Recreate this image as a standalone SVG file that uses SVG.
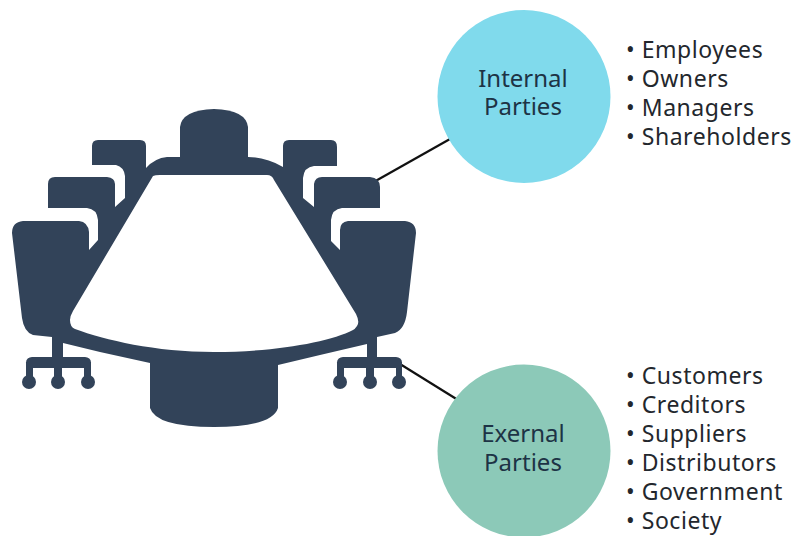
<svg xmlns="http://www.w3.org/2000/svg" width="793" height="536" viewBox="0 0 793 536">
<style>
.d{fill:#324359}
.c{stroke:#111;stroke-width:2.2;fill:none}
text{font-family:"Noto Sans","Open Sans",sans-serif;font-size:23px;fill:#23272d;letter-spacing:.55px}
.h{font-size:24px;fill:#1d3345;text-anchor:middle;letter-spacing:0}
</style>
<rect width="793" height="536" fill="#fff"/>
<g id="connectors">
<line class="c" x1="372" y1="183" x2="450" y2="139"/>
<line class="c" x1="400" y1="364" x2="458" y2="400"/>
</g>
<g id="table-set">
<path class="d" d="M180 160V127Q182 110 214 109Q246 110 248 127V160Z"/>
<path class="d" d="M92 165V146Q92 140 98 140H140Q146 140 146 146V168Q155 158 167 157H248Q266 157 283 167V146Q283 140 289 140H331Q337 140 337 147V166H314Q304 167 303 178V198L314 207V184Q315 177 322 177H370Q380 178 380 187V208H342Q332 209 331 220V241L340 250V230Q340 222 348 221H405Q416 222 416 233L407 312Q405 329 395 333L377 337V360H367V344L320 355L278 365V408Q272 427 214 427Q156 427 150 408V363L100 352L63 343V360H52V337L33 335Q24 332 22 318L12 233Q12 222 23 221H79Q88 222 89 232V250L98 240V220Q97 209 87 208H48V184Q48 177 55 177H107Q115 178 115 184V207L125 198V176Q124 167 116 165Z"/>
<g id="left-casters" class="d">
<rect x="26" y="357" width="65" height="11" rx="6"/>
<rect x="26" y="362" width="7" height="20"/><rect x="54" y="362" width="8" height="20"/><rect x="84" y="362" width="7" height="20"/>
<circle cx="29" cy="382" r="7"/><circle cx="58" cy="382" r="7"/><circle cx="88" cy="382" r="7"/>
</g>
<g id="right-casters" class="d">
<rect x="337" y="357" width="65" height="11" rx="6"/>
<rect x="337" y="362" width="7" height="20"/><rect x="366" y="362" width="8" height="20"/><rect x="396" y="362" width="6" height="20"/>
<circle cx="340" cy="382" r="7"/><circle cx="370" cy="382" r="7"/><circle cx="399" cy="382" r="7"/>
</g>
<path d="M153 176Q155 175 160 175H267Q272 175 274 180L356 314Q360 322 357 326Q355 329 353 330C330 342 275 352 214 352C155 352 105 340 75 329Q70 327 70 320Q70 316 73 311Z" fill="#fff"/>
</g>
<g id="internal">
<circle cx="524" cy="96.500" r="86.500" fill="#80daec"/>
<text class="h"><tspan x="523" y="87">Internal</tspan><tspan x="523" y="115">Parties</tspan></text>
</g>
<g id="internal-list">
<text x="626" y="58">• Employees</text>
<text x="626" y="87">• Owners</text>
<text x="626" y="116">• Managers</text>
<text x="626" y="145">• Shareholders</text>
</g>
<g id="external">
<circle cx="524" cy="451" r="86.500" fill="#8cc9b8"/>
<text class="h"><tspan x="523" y="442">Exernal</tspan><tspan x="523" y="471">Parties</tspan></text>
</g>
<g id="external-list">
<text x="626" y="384">• Customers</text>
<text x="626" y="413">• Creditors</text>
<text x="626" y="442">• Suppliers</text>
<text x="626" y="471">• Distributors</text>
<text x="626" y="500">• Government</text>
<text x="626" y="529">• Society</text>
</g>
</svg>
